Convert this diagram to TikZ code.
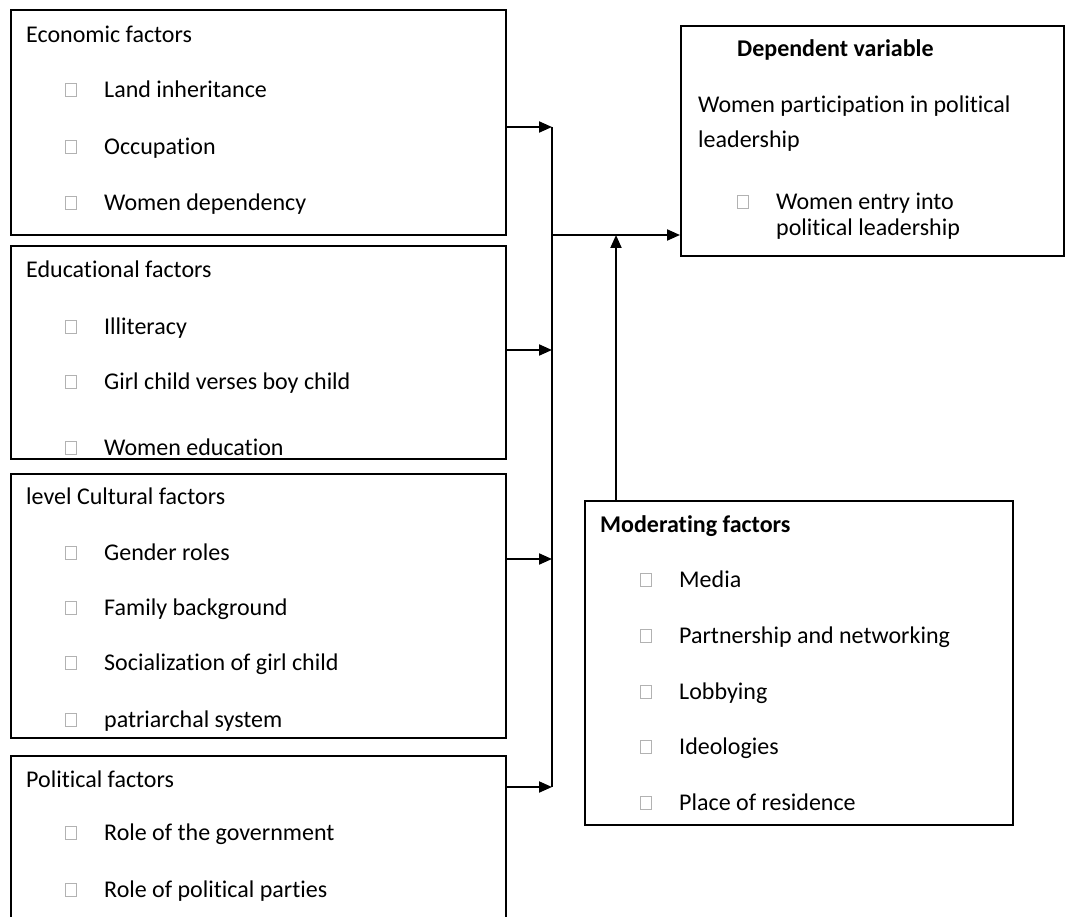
\documentclass[tikz,border=0pt]{standalone}
\usepackage{fontspec}
\setmainfont{Carlito}[Ligatures=NoCommon]
\usetikzlibrary{arrows.meta}
\tikzset{
  box/.style={draw=black, line width=2pt, anchor=north west, inner sep=0pt},
  txt/.style={anchor=base west, inner sep=0pt, font=\fontsize{24}{28}\selectfont},
  hd/.style={txt, font=\fontsize{24}{28}\selectfont\bfseries},
  bul/.style={draw=gray!60, line width=0.8pt, minimum width=10.5pt, minimum height=13.5pt, inner sep=0pt},
  conn/.style={line width=2pt},
  arr/.style={line width=2pt, -{Triangle[length=13pt,width=11pt]}}
}
\newcommand{\entry}[4]{%
  \node[bul] (#1b) at (#2-33,#3) {};
  \node[txt] (#1) at (#2,#3+7.5) {#4};}
\begin{document}
\begin{tikzpicture}[x=1pt,y=-1pt]
\useasboundingbox (0,0) rectangle (1065,917);
% left boxes
\node[box, minimum width=495pt, minimum height=225pt] (econ) at (10,9) {};
\node[box, minimum width=495pt, minimum height=213pt] (edu) at (10,245) {};
\node[box, minimum width=495pt, minimum height=264pt] (cult) at (10,473) {};
\node[box, minimum width=495pt, minimum height=185pt] (pol) at (10,755) {};
% right boxes
\node[box, minimum width=383pt, minimum height=230pt] (dep) at (680,25) {};
\node[box, minimum width=428pt, minimum height=324pt] (mod) at (584,500) {};
% economic
\node[txt] (h1) at (26,42.5) {Economic factors};
\entry{e1}{104}{90}{Land inheritance}
\entry{e2}{104}{147}{Occupation}
\entry{e3}{104}{203}{Women dependency}
% educational
\node[txt] (h2) at (26,277.5) {Educational factors};
\entry{d1}{104}{327}{Illiteracy}
\entry{d2}{104}{382}{Girl child verses boy child}
\entry{d3}{104}{448}{Women education}
% cultural
\node[txt] (h3) at (26,504.5) {level Cultural factors};
\entry{c1}{104}{553}{Gender roles}
\entry{c2}{104}{608}{Family background}
\entry{c3}{104}{663}{Socialization of girl child}
\entry{c4}{104}{720}{patriarchal system}
% political
\node[txt] (h4) at (26,787.5) {Political factors};
\entry{p1}{104}{833}{Role of the government}
\entry{p2}{104}{890}{Role of political parties}
% dependent
\node[hd] (h5) at (737,56.5) {Dependent variable};
\node[txt] (v1) at (698,112.5) {Women participation in political};
\node[txt] (v2) at (698,147.5) {leadership};
\entry{v3}{776}{202}{Women entry into}
\node[txt] (v4) at (776,235.5) {political leadership};
% moderating
\node[hd] (h6) at (600,532.5) {Moderating factors};
\entry{m1}{679}{580}{Media}
\entry{m2}{679}{636}{Partnership and networking}
\entry{m3}{679}{692}{Lobbying}
\entry{m4}{679}{747}{Ideologies}
\entry{m5}{679}{803}{Place of residence}
% connectors
\coordinate (j1) at (552,127);
\coordinate (j2) at (552,350);
\coordinate (j3) at (552,559);
\coordinate (j4) at (552,787);
\coordinate (jm) at (552,235);
\coordinate (mt) at (616,235);
\draw[conn] (j1) -- (j4);
\draw[arr] (econ.east |- j1) -- (j1);
\draw[arr] (edu.east |- j2) -- (j2);
\draw[arr] (cult.east |- j3) -- (j3);
\draw[arr] (pol.east |- j4) -- (j4);
\draw[arr] (jm) -- (dep.west |- jm);
\draw[arr] (mod.north -| mt) -- (mt);
\end{tikzpicture}
\end{document}
